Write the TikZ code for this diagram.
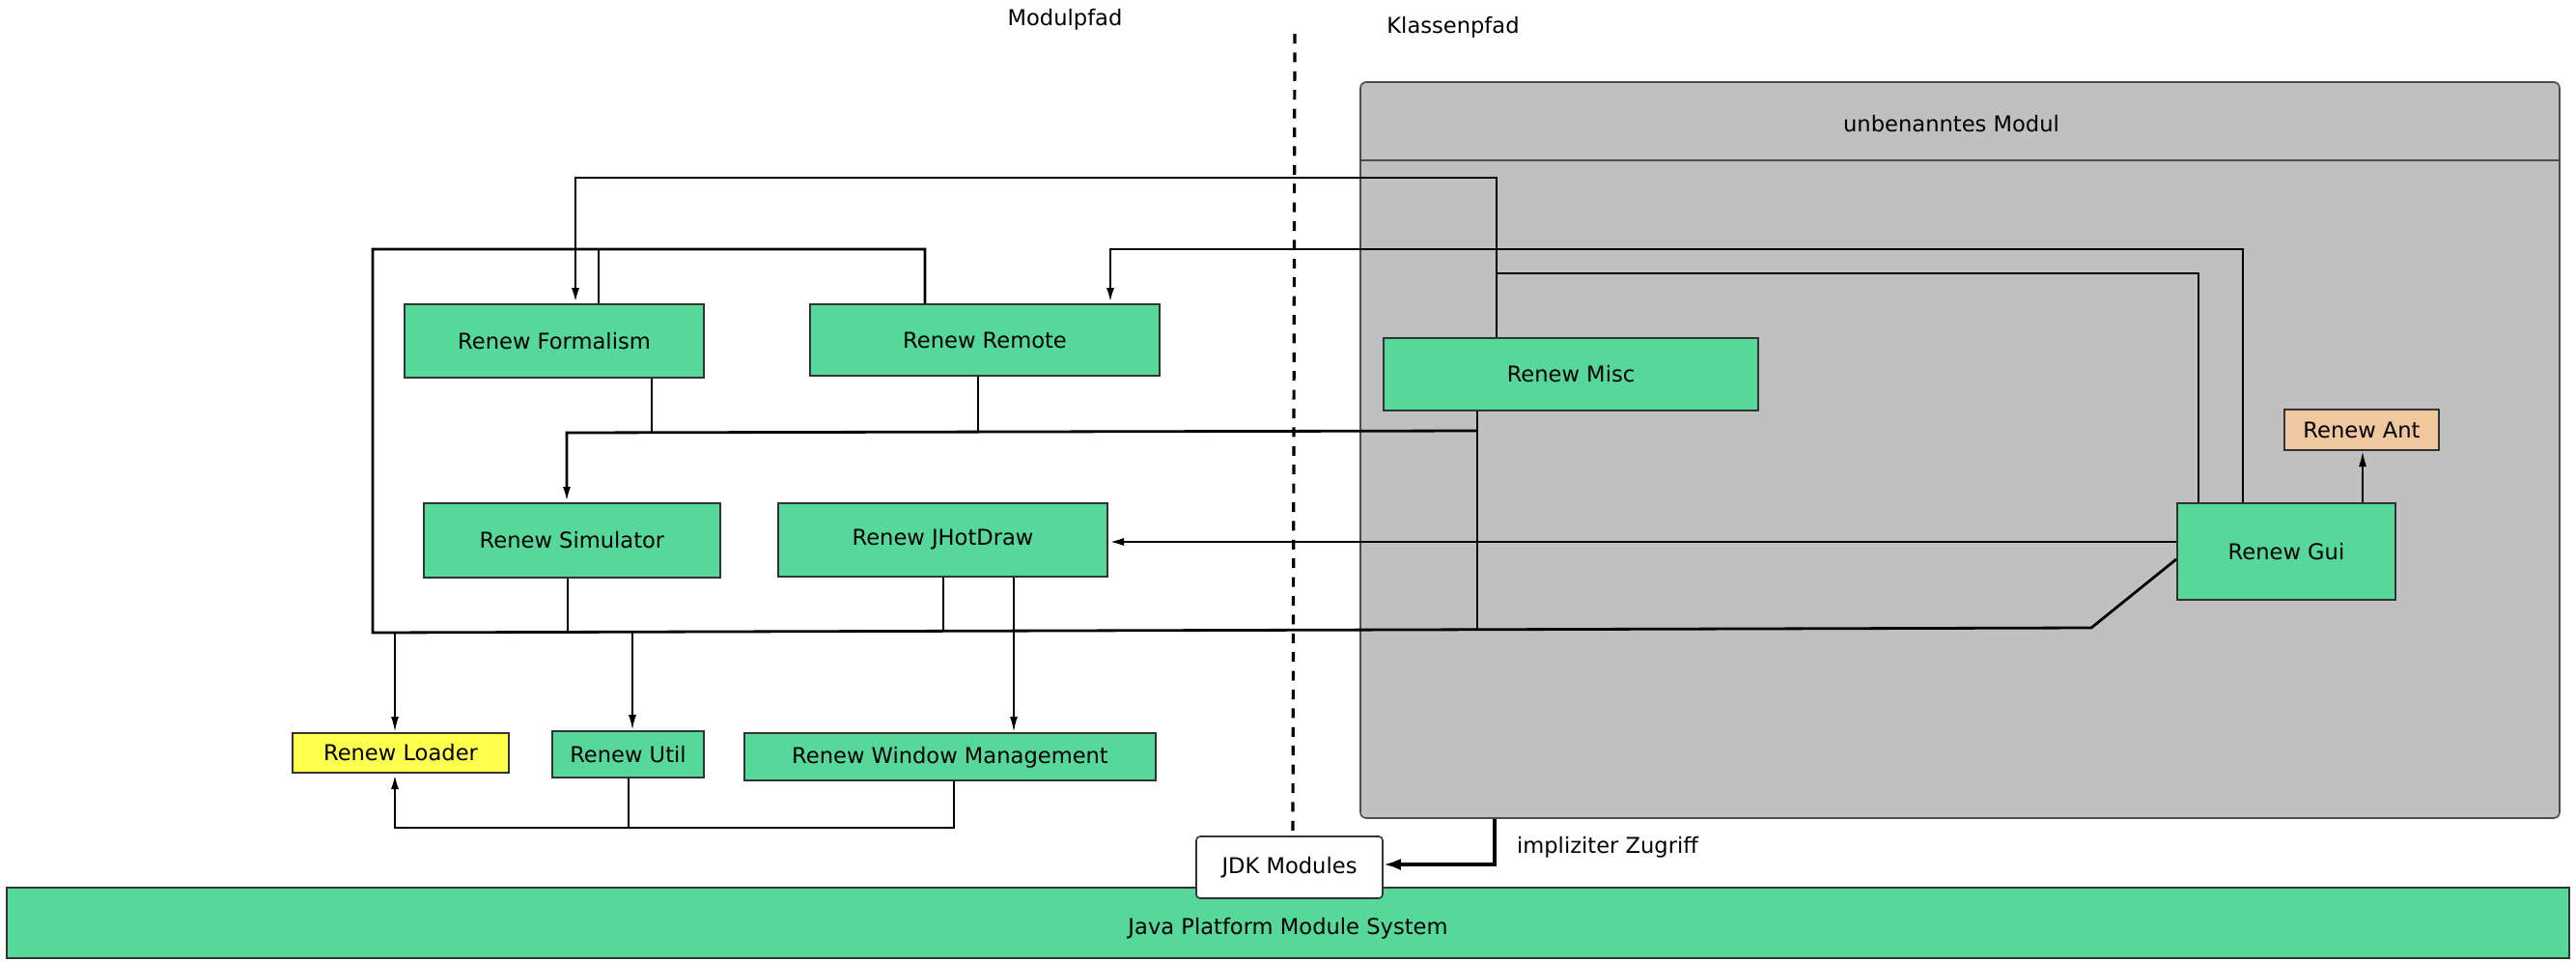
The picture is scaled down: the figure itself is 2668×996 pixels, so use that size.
\documentclass[tikz,border=0pt]{standalone}
\usepackage{fontspec}
\setmainfont{DejaVu Sans}
\usetikzlibrary{arrows.meta}
\definecolor{jgreen}{RGB}{86,216,154}
\definecolor{jyellow}{RGB}{255,255,77}
\definecolor{jpeach}{RGB}{240,200,160}
\definecolor{jgrey}{RGB}{192,192,192}
\begin{document}
\begin{tikzpicture}[x=0.5pt,y=-0.5pt,
  every node/.style={font=\fontsize{11.3}{13.5}\selectfont},
  modbox/.style={draw=black!80,line width=1pt,inner sep=0pt,fill=jgreen},
  conn/.style={line width=1pt},
  bus/.style={line width=1.4pt},
  arr/.style={-{Latex[length=8pt,width=4pt]}},
]
\useasboundingbox (0,0) rectangle (2668,996);

% unnamed module container
\node[draw=black!70,fill=jgrey,rounded corners=3pt,line width=0.8pt,
      minimum width=621pt,minimum height=381pt,inner sep=0pt] (unnamed) at (2030,466) {};
\draw[black!70,line width=0.8pt] (unnamed.west |- 0,166) -- (unnamed.east |- 0,166);
\node (title) at (2021,128) {unbenanntes Modul};

% free texts
\node (modp) at (1103,20) {Modulpfad};
\node (klp) at (1505,28) {Klassenpfad};
\node (impl) at (1665,877) {impliziter Zugriff};

% module boxes
\node[modbox,minimum width=155pt,minimum height=38pt] (form) at (574,353) {Renew Formalism};
\node[modbox,minimum width=181pt,minimum height=37pt] (remote) at (1020,352) {Renew Remote};
\node[modbox,minimum width=194pt,minimum height=37.5pt] (misc) at (1627,387.5) {Renew Misc};
\node[modbox,minimum width=153.5pt,minimum height=38.5pt] (sim) at (592.5,559.5) {Renew Simulator};
\node[modbox,minimum width=170.5pt,minimum height=38pt] (jhd) at (976.5,559) {Renew JHotDraw};
\node[modbox,minimum width=113pt,minimum height=50pt] (gui) at (2368,571) {Renew Gui};
\node[modbox,fill=jpeach,minimum width=80pt,minimum height=21pt] (ant) at (2446,445) {Renew Ant};
\node[modbox,fill=jyellow,minimum width=112pt,minimum height=20.5pt] (loader) at (415,779.5) {Renew Loader};
\node[modbox,minimum width=78.5pt,minimum height=24pt] (util) at (650.5,781) {Renew Util};
\node[modbox,minimum width=213pt,minimum height=24.5pt,text height=9.5pt,text depth=2.5pt] (wm) at (984,783.5) {Renew Window Management};
\node[modbox,minimum width=1327pt,minimum height=36.5pt,text height=14.5pt,text depth=2.5pt] (jpms) at (1334,955.5) {Java Platform Module System};
\node[draw=black!80,fill=white,rounded corners=2pt,line width=0.8pt,inner sep=0pt,
      minimum width=96.5pt,minimum height=32pt] (jdk) at (1335.5,898) {JDK Modules};

% connectors
\draw[bus,arr] (misc.north -| 1550,0) -- (1550,184) -- (596,184) -- (form.north -| 596,0);
\draw[bus,arr] (gui.north -| 2323,0) -- (2323,258) -- (1150,258) -- (remote.north -| 1150,0);
\coordinate (j1) at (1550,283);
\draw[bus] (gui.north -| 2277,0) -- (2277,283) -- (j1);

% bus to loader / util
\draw[bus] (remote.north -| 958,0) -- (958,258) -- (386,258) -- (386,655) -- (2166,650) -- (gui.west |- 0,579);
\draw[conn] (form.north -| 620,0) -- (620,258);
\draw[conn] (sim.south -| 588,0) -- (588,655);
\draw[conn] (jhd.south -| 977,0) -- (977,653);
\draw[conn] (misc.south -| 1530,0) -- (1530,651);
\draw[conn,arr] (409,656) -- (loader.north -| 409,0);
\draw[conn,arr] (655,655) -- (util.north -| 655,0);

% bus to simulator
\draw[conn] (form.south -| 675,0) -- (675,448);
\draw[conn] (remote.south -| 1013,0) -- (1013,447);
\draw[bus,arr] (1530,446) -- (587,448) -- (sim.north -| 587,0);

% gui -> jhotdraw
\draw[bus,arr] (gui.west |- 0,561) -- (jhd.east |- 0,561);
% jhotdraw -> window management
\draw[conn,arr] (jhd.south -| 1050,0) -- (wm.north -| 1050,0);
% util / wm -> loader
\draw[conn] (util.south -| 651,0) -- (651,857);
\draw[bus,arr] (wm.south -| 988,0) -- (988,857) -- (409,857) -- (loader.south -| 409,0);
% gui -> ant
\draw[conn,arr] (gui.north -| 2447,0) -- (ant.south -| 2447,0);
% implicit access
\draw[line width=2pt,-{Latex[length=9pt,width=6pt]}] (unnamed.south -| 1548,0) -- (1548,895) -- (jdk.east |- 0,895);

% separator
\coordinate (dtop) at (1341,35);
\coordinate (dbot) at (1339,861);
\draw[line width=1.6pt,dash pattern=on 5pt off 4.7pt] (dtop) -- (dbot);
\end{tikzpicture}
\end{document}
